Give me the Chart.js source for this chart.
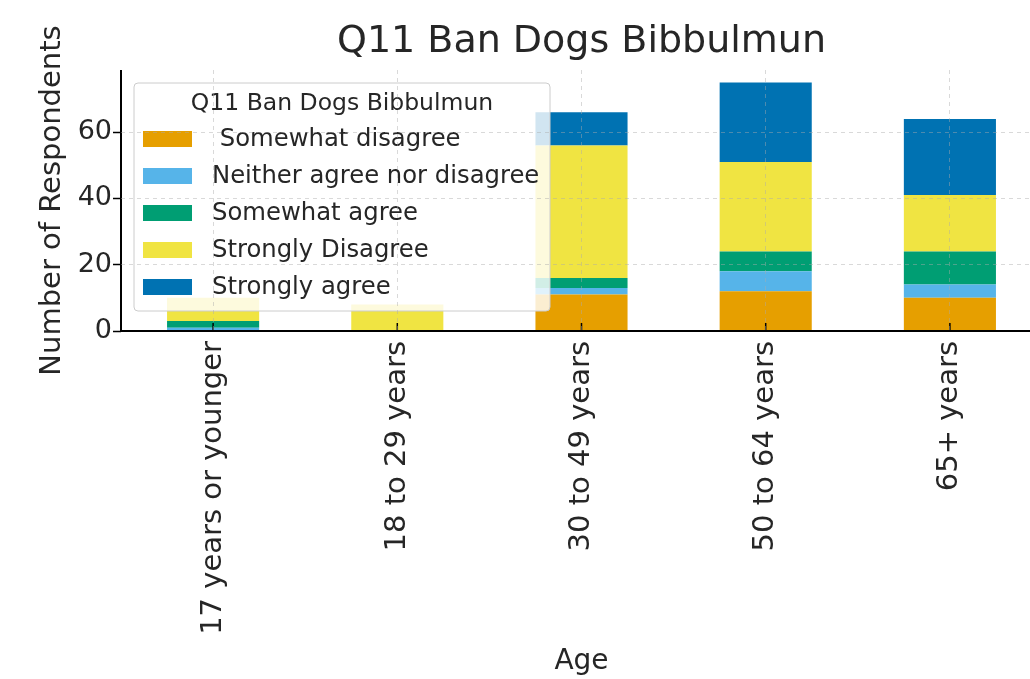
<!DOCTYPE html>
<html>
<head>
<meta charset="utf-8">
<script src="https://cdn.jsdelivr.net/npm/chart.js@4/dist/chart.umd.min.js"></script>
<style>
  html, body { margin: 0; padding: 0; background: #fff; overflow: hidden; }
  #wrap { width: 1030px; height: 679px; overflow: hidden; }
</style>
</head>
<body>
<div id="wrap"><canvas id="chart" width="1042" height="679"></canvas></div>
<script>
const ageGroups = ['17 years or younger', '18 to 29 years', '30 to 49 years', '50 to 64 years', '65+ years'];
const responseLabels = [' Somewhat disagree', 'Neither agree nor disagree', 'Somewhat agree', 'Strongly Disagree', 'Strongly agree'];
const somewhatDisagree = [0, 0, 11, 12, 10];
const neitherAgree = [1, 0, 2, 6, 4];
const somewhatAgree = [2, 0, 3, 6, 10];
const stronglyDisagree = [7, 8, 40, 27, 17];
const stronglyAgree = [0, 0, 10, 24, 23];
const yTicks = [0, 20, 40, 60];
const colors = ['#E69F00', '#56B4E9', '#009E73', '#F0E442', '#0072B2'];
const chartTitle = 'Q11 Ban Dogs Bibbulmun';

const series = [somewhatDisagree, neitherAgree, somewhatAgree, stronglyDisagree, stronglyAgree];
const FONT = "'DejaVu Sans', sans-serif";
const TEXT = '#262626';
const GRID = 'rgba(170,170,170,0.45)';

// title centred over the plot area (matplotlib style), not the canvas
const plotTitle = {
  id: 'plotTitle',
  afterDraw(chart) {
    const ctx = chart.ctx;
    const a = chart.chartArea;
    ctx.save();
    ctx.fillStyle = TEXT;
    ctx.font = '38px ' + FONT;
    ctx.textAlign = 'center';
    ctx.textBaseline = 'middle';
    ctx.fillText(chartTitle, (a.left + a.right) / 2, 42);
    ctx.restore();
  }
};

// legend box drawn inside the plot, like matplotlib's upper-left legend
const innerLegend = {
  id: 'innerLegend',
  afterDatasetsDraw(chart) {
    const ctx = chart.ctx;
    const area = chart.chartArea;
    const x = area.left + 13, y = area.top + 13, w = 416, h = 228;
    ctx.save();
    ctx.beginPath();
    ctx.roundRect(x, y, w, h, 4);
    ctx.fillStyle = 'rgba(255,255,255,0.82)';
    ctx.fill();
    ctx.strokeStyle = '#cccccc';
    ctx.lineWidth = 1;
    ctx.stroke();

    ctx.fillStyle = TEXT;
    ctx.font = '23.5px ' + FONT;
    ctx.textAlign = 'center';
    ctx.textBaseline = 'middle';
    ctx.fillText(chartTitle, x + w / 2, y + 21);

    ctx.font = '24.3px ' + FONT;
    ctx.textAlign = 'left';
    chart.data.datasets.forEach((ds, i) => {
      const cy = y + 56 + i * 37;
      ctx.fillStyle = ds.backgroundColor;
      ctx.fillRect(x + 9, cy - 8, 49, 16);
      ctx.fillStyle = TEXT;
      ctx.fillText(ds.label, x + 78, cy + 1);
    });
    ctx.restore();
  }
};

// axis lines (left and bottom only) and short inward x ticks
const axisLines = {
  id: 'axisLines',
  afterDatasetsDraw(chart) {
    const ctx = chart.ctx;
    const a = chart.chartArea;
    const xs = chart.scales.x;
    ctx.save();
    ctx.strokeStyle = '#000';
    ctx.lineWidth = 2;
    ctx.beginPath();
    ctx.moveTo(a.left, a.top);
    ctx.lineTo(a.left, a.bottom);
    ctx.lineTo(chart.width, a.bottom);
    ctx.stroke();
    ctx.lineWidth = 1.5;
    ageGroups.forEach((g, i) => {
      const px = xs.getPixelForValue(i);
      ctx.beginPath();
      ctx.moveTo(px, a.bottom);
      ctx.lineTo(px, a.bottom - 8);
      ctx.stroke();
    });
    ctx.restore();
  }
};

new Chart(document.getElementById('chart').getContext('2d'), {
  type: 'bar',
  data: {
    labels: ageGroups,
    datasets: series.map((vals, i) => ({
      label: responseLabels[i],
      data: vals,
      backgroundColor: colors[i],
      borderWidth: 0,
      barPercentage: 0.5,
      categoryPercentage: 1.0
    }))
  },
  options: {
    responsive: false,
    animation: false,
    devicePixelRatio: 1,
    layout: { padding: { top: 70, left: 0, right: 0, bottom: 0 } },
    plugins: {
      legend: { display: false },
      tooltip: { enabled: false },
      title: { display: false }
    },
    scales: {
      x: {
        stacked: true,
        offset: true,
        grid: { display: true, offset: false, drawTicks: false, color: GRID, z: 1 },
        border: { display: false, dash: [4, 4] },
        ticks: {
          color: TEXT,
          font: { family: FONT, size: 29 },
          minRotation: 90,
          maxRotation: 90,
          padding: 10
        },
        title: {
          display: true,
          text: 'Age',
          color: TEXT,
          font: { family: FONT, size: 28 },
          padding: { top: 0, bottom: 0 }
        },
        afterFit(scale) { scale.height = 348; }
      },
      y: {
        stacked: true,
        min: 0,
        max: 78.75,
        afterBuildTicks(scale) { scale.ticks = yTicks.map(v => ({ value: v })); },
        grid: {
          display: true,
          drawTicks: true,
          tickLength: 8,
          tickColor: '#000',
          tickWidth: 1.5,
          color: (c) => c.tick && c.tick.value === 0 ? 'rgba(0,0,0,0)' : GRID,
          z: 1
        },
        border: { display: false, dash: [4, 4] },
        ticks: {
          color: TEXT,
          font: { family: FONT, size: 27 },
          padding: 1
        },
        title: {
          display: true,
          text: 'Number of Respondents',
          color: TEXT,
          font: { family: FONT, size: 29 },
          padding: { top: 35, bottom: 0 }
        },
        afterFit(scale) { scale.width = 121; }
      }
    }
  },
  plugins: [innerLegend, axisLines, plotTitle]
});
</script>
</body>
</html>
